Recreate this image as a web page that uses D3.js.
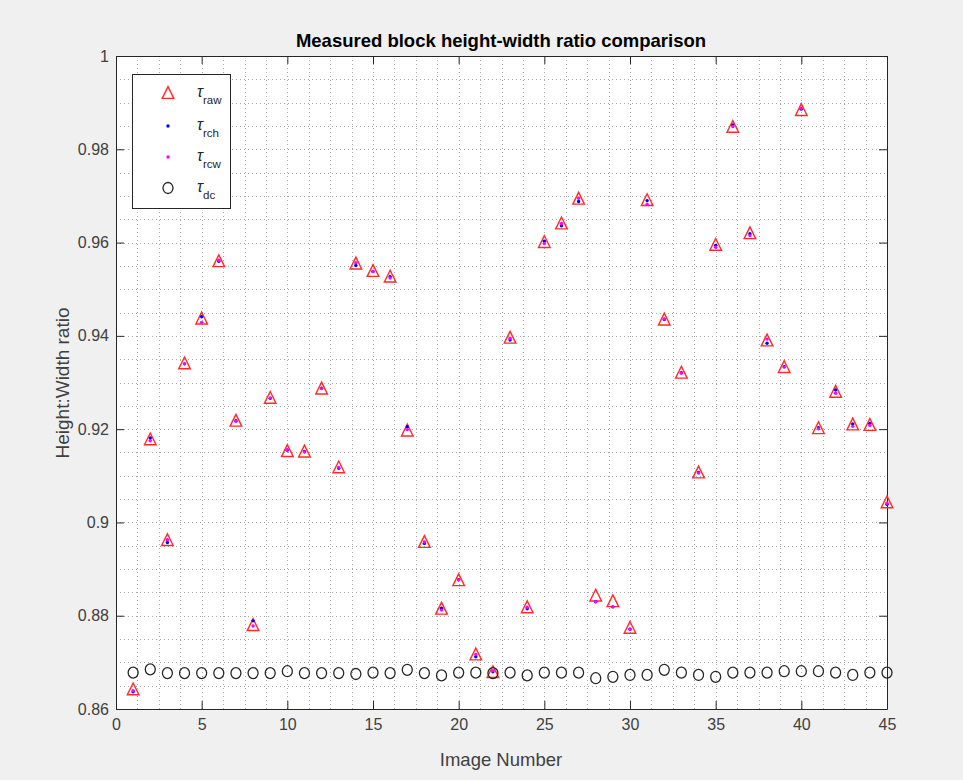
<!DOCTYPE html>
<html>
<head>
<meta charset="utf-8">
<script src="https://cdn.jsdelivr.net/npm/d3@7"></script>
<style>
  html, body { margin: 0; padding: 0; background: #f0f0f0; }
  svg { display: block; font-family: "Liberation Sans", Arial, Helvetica, sans-serif; }
</style>
</head>
<body>
<svg id="chart" width="963" height="780"></svg>
<script>
// ---------- DATA ----------
const imageNumbers = d3.range(1, 46);
const tauRaw = [0.8642,0.9178,0.8962,0.9341,0.9437,0.9560,0.9218,0.8780,0.9267,0.9153,
                0.9152,0.9287,0.9118,0.9555,0.9539,0.9527,0.9197,0.8958,0.8815,0.8876,
                0.8717,0.8679,0.9396,0.8818,0.9601,0.9641,0.9694,0.8843,0.8831,0.8774,
                0.9691,0.9435,0.9321,0.9107,0.9595,0.9848,0.9620,0.9390,0.9333,0.9884,
                0.9202,0.9280,0.9210,0.9209,0.9043];
const tauRch = [0.8637,0.9181,0.8957,0.9340,0.9441,0.9560,0.9218,0.8789,0.9266,0.9155,
                0.9152,0.9288,0.9116,0.9551,0.9538,0.9527,0.9205,0.8955,0.8816,0.8877,
                0.8712,0.8680,0.9391,0.8815,0.9603,0.9636,0.9688,0.8830,0.8819,0.8771,
                0.9690,0.9435,0.9321,0.9107,0.9594,0.9852,0.9619,0.9384,0.9334,0.9886,
                0.9203,0.9284,0.9211,0.9212,0.9039];
const tauRcw = [0.8639,0.9175,0.8963,0.9340,0.9429,0.9562,0.9217,0.8778,0.9267,0.9156,
                0.9151,0.9287,0.9118,0.9557,0.9538,0.9524,0.9199,0.8958,0.8812,0.8877,
                0.8717,0.8682,0.9395,0.8818,0.9598,0.9641,0.9695,0.8830,0.8819,0.8771,
                0.9682,0.9436,0.9320,0.9106,0.9590,0.9849,0.9615,0.9393,0.9333,0.9888,
                0.9201,0.9277,0.9206,0.9208,0.9041];
const tauDc  = [0.8678,0.8685,0.8677,0.8677,0.8677,0.8677,0.8677,0.8677,0.8677,0.8681,
                0.8677,0.8677,0.8677,0.8675,0.8678,0.8677,0.8684,0.8677,0.8672,0.8678,
                0.8678,0.8677,0.8678,0.8672,0.8678,0.8678,0.8678,0.8666,0.8669,0.8673,
                0.8673,0.8684,0.8678,0.8673,0.8669,0.8678,0.8678,0.8678,0.8681,0.8681,
                0.8681,0.8678,0.8673,0.8678,0.8678];
const xTicks = [0,5,10,15,20,25,30,35,40,45];
const xTickLabels = ["0","5","10","15","20","25","30","35","40","45"];
const yTicks = [0.86,0.88,0.90,0.92,0.94,0.96,0.98,1.00];
const yTickLabels = ["0.86","0.88","0.9","0.92","0.94","0.96","0.98","1"];
const legendLabels = ["raw","rch","rcw","dc"];
const titleText = "Measured block height-width ratio comparison";
const xLabelText = "Image Number";
const yLabelText = "Height:Width ratio";

// ---------- LAYOUT ----------
const L = 116, R = 887, T = 56, B = 709;
const svg = d3.select("#chart");
const x = d3.scaleLinear().domain([0, 45]).range([L, R]);
const y = d3.scaleLinear().domain([0.86, 1.0]).range([B, T]);

svg.append("rect").attr("x", 0).attr("y", 0).attr("width", 963).attr("height", 780).attr("fill", "#f0f0f0");
svg.append("rect").attr("x", L).attr("y", T).attr("width", R - L).attr("height", B - T).attr("fill", "#ffffff");

// grid (dotted, major + minor)
const gx = d3.range(0, 45.0001, 1.25);
const gy = d3.range(0, 28.5).map(i => 0.86 + i * 0.005).filter(v => v <= 1.00001);
const grid = svg.append("g").attr("stroke", "#a8a8a8").attr("stroke-width", 1).attr("stroke-dasharray", "1,3");
grid.selectAll("line.gx").data(gx).join("line").attr("class", "gx")
  .attr("x1", d => Math.round(x(d)) + 0.5).attr("x2", d => Math.round(x(d)) + 0.5)
  .attr("y1", T).attr("y2", B);
grid.selectAll("line.gy").data(gy).join("line").attr("class", "gy")
  .attr("y1", d => Math.round(y(d)) + 0.5).attr("y2", d => Math.round(y(d)) + 0.5)
  .attr("x1", L).attr("x2", R);

// axes
const axColor = "#262626";
function styleAxis(g, labels) {
  g.select(".domain").attr("stroke", axColor).attr("stroke-width", 1);
  g.selectAll(".tick line").attr("stroke", axColor).attr("stroke-width", 1);
  g.selectAll(".tick text").attr("fill", "#404040").style("font-size", "16px")
    .style("font-family", '"Liberation Sans", Arial, sans-serif');
  if (!labels) g.selectAll(".tick text").remove();
}
const xb = svg.append("g").attr("transform", `translate(0,${B})`)
  .call(d3.axisBottom(x).tickValues(xTicks).tickFormat((d, i) => xTickLabels[i]).tickSizeInner(-8).tickSizeOuter(0).tickPadding(10));
styleAxis(xb, true);
const xt = svg.append("g").attr("transform", `translate(0,${T})`)
  .call(d3.axisTop(x).tickValues(xTicks).tickSizeInner(-8).tickSizeOuter(0));
styleAxis(xt, false);
const yl = svg.append("g").attr("transform", `translate(${L},0)`)
  .call(d3.axisLeft(y).tickValues(yTicks).tickFormat((d, i) => yTickLabels[i]).tickSizeInner(-8).tickSizeOuter(0).tickPadding(7));
styleAxis(yl, true);
const yr = svg.append("g").attr("transform", `translate(${R},0)`)
  .call(d3.axisRight(y).tickValues(yTicks).tickSizeInner(-8).tickSizeOuter(0));
styleAxis(yr, false);

// markers
const triPath = "M0,-6.4L5.8,5.4L-5.8,5.4Z";
const plot = svg.append("g");
plot.selectAll("path.raw").data(tauRaw).join("path").attr("class", "raw")
  .attr("d", triPath)
  .attr("transform", (d, i) => `translate(${x(imageNumbers[i])},${y(d)})`)
  .attr("fill", "none").attr("stroke", "#ff2a2a").attr("stroke-width", 1.4);
plot.selectAll("circle.rch").data(tauRch).join("circle").attr("class", "rch")
  .attr("cx", (d, i) => x(imageNumbers[i])).attr("cy", d => y(d)).attr("r", 1.7).attr("fill", "#0000ff");
plot.selectAll("circle.rcw").data(tauRcw).join("circle").attr("class", "rcw")
  .attr("cx", (d, i) => x(imageNumbers[i])).attr("cy", d => y(d)).attr("r", 1.7).attr("fill", "#ff00ff");
plot.selectAll("ellipse.dc").data(tauDc).join("ellipse").attr("class", "dc")
  .attr("cx", (d, i) => x(imageNumbers[i])).attr("cy", d => y(d)).attr("rx", 5).attr("ry", 5.5)
  .attr("fill", "none").attr("stroke", "#262626").attr("stroke-width", 1.3);

// legend
const lg = svg.append("g");
lg.append("rect").attr("x", 132.5).attr("y", 74.5).attr("width", 98).attr("height", 134)
  .attr("fill", "#ffffff").attr("stroke", axColor).attr("stroke-width", 1);
const rowY = [93, 126, 157, 188];
const mx = 168;
lg.append("path").attr("d", triPath).attr("transform", `translate(${mx},${rowY[0]})`)
  .attr("fill", "none").attr("stroke", "#ff2a2a").attr("stroke-width", 1.4);
lg.append("circle").attr("cx", mx).attr("cy", rowY[1]).attr("r", 1.7).attr("fill", "#0000ff");
lg.append("circle").attr("cx", mx).attr("cy", rowY[2]).attr("r", 1.7).attr("fill", "#ff00ff");
lg.append("ellipse").attr("cx", mx).attr("cy", rowY[3]).attr("rx", 5).attr("ry", 5.5)
  .attr("fill", "none").attr("stroke", "#262626").attr("stroke-width", 1.3);
legendLabels.forEach((lab, i) => {
  const t = lg.append("text").attr("x", 197).attr("y", rowY[i] + 4)
    .attr("fill", "#262626").style("font-size", "16px");
  t.append("tspan").style("font-style", "italic").text("τ");
  t.append("tspan").attr("dy", 7).style("font-size", "11.5px").text(lab);
});

// title and labels
svg.append("text").attr("x", 501).attr("y", 47).attr("text-anchor", "middle")
  .style("font-size", "18.5px").style("font-weight", "bold").attr("fill", "#000").text(titleText);
svg.append("text").attr("x", 501).attr("y", 766).attr("text-anchor", "middle")
  .style("font-size", "18.5px").attr("fill", "#404040").text(xLabelText);
svg.append("text").attr("transform", "translate(69,383) rotate(-90)").attr("text-anchor", "middle")
  .style("font-size", "19px").attr("fill", "#404040").text(yLabelText);
</script>
</body>
</html>
